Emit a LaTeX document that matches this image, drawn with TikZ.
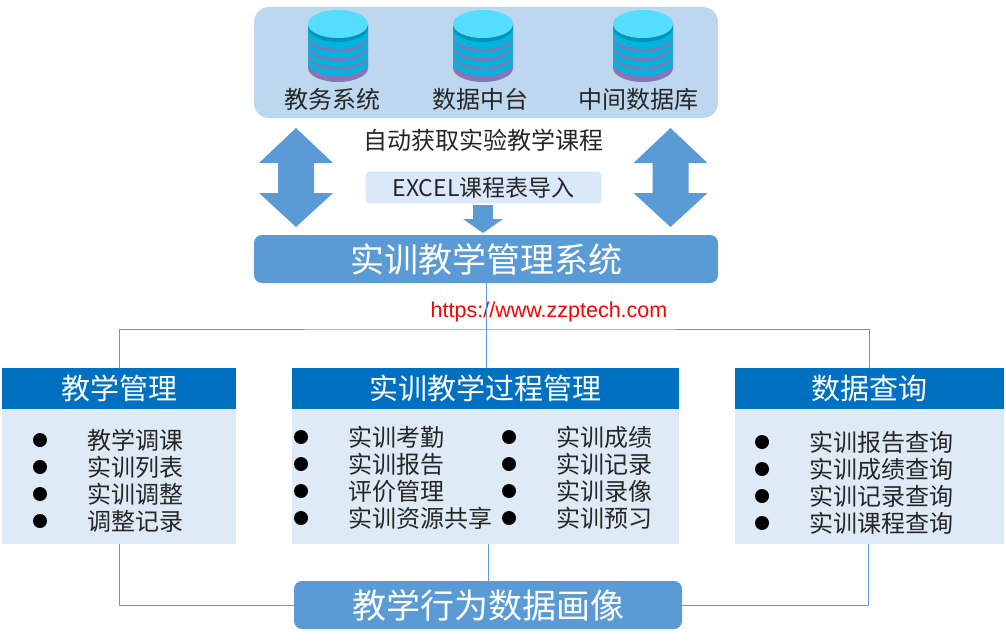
\documentclass[tikz,border=0pt]{standalone}
\usepackage{fontspec}
\setmainfont{Noto Sans CJK SC}
\newfontfamily\urlfont{Liberation Sans}
\usetikzlibrary{positioning}
\definecolor{panelblue}{HTML}{BDD7EE}
\definecolor{boxblue}{HTML}{5B9BD5}
\definecolor{hdrblue}{HTML}{0070C0}
\definecolor{bodyblue}{HTML}{DEEBF7}
\definecolor{excelblue}{HTML}{DAE8FA}
\definecolor{cyltop}{HTML}{55DDFF}
\definecolor{cylcyan}{HTML}{00B4DE}
\definecolor{cylrim}{HTML}{0096B8}
\definecolor{cylpurple}{HTML}{8477B5}
\definecolor{txtgray}{HTML}{262626}
\begin{document}
\begin{tikzpicture}[x=1pt,y=-1pt,line join=round,line cap=round,
	txt/.style={text=txtgray,inner sep=0pt,font=\fontsize{24}{28}\selectfont},
	bigbox/.style={fill=boxblue,rounded corners=8pt,text=white,font=\fontsize{34}{38}\selectfont,minimum height=48pt},
	hdr/.style={fill=hdrblue,text=white,font=\fontsize{29}{32}\selectfont,minimum height=41pt},
	body/.style={fill=bodyblue,minimum height=135pt,below=0pt of #1},
	dot/.style={circle,fill=black,inner sep=0pt,minimum size=14pt},
	link/.style={draw=boxblue,line width=0.9pt}]
	\useasboundingbox (0,0) rectangle (1006,642);
	\node[fill=panelblue,rounded corners=15pt,minimum width=464pt,minimum height=111pt] (src) at (486,62.5) {};
	\foreach \cx/\lx/\t in {338/332/教务系统,483/480/数据中台,643/638/中间数据库}{
		\fill[cylpurple] (\cx-30,24) -- (\cx-30,68) arc[start angle=180,end angle=0,x radius=30,y radius=14] -- (\cx+30,24) -- cycle;
		\fill[cylrim] (\cx-30,24) arc[start angle=180,end angle=0,x radius=30,y radius=14] -- (\cx+30,28) arc[start angle=0,end angle=180,x radius=30,y radius=14] -- cycle;
		\foreach \a/\b in {4/11,14/20,23/29,32/38}
			\fill[cylcyan] (\cx-30,24+\a) arc[start angle=180,end angle=0,x radius=30,y radius=14] -- (\cx+30,24+\b) arc[start angle=0,end angle=180,x radius=30,y radius=14] -- cycle;
		\fill[cyltop] (\cx,24) ellipse[x radius=30,y radius=14];
		\node[txt] at (\lx,99) {\t};
	}
	\node[txt] (auto) at (483,140) {自动获取实验教学课程};
	\node[txt,fill=excelblue,draw=excelblue!80!boxblue,rounded corners=4pt,minimum width=235pt,minimum height=31pt,font=\fontsize{23}{26}\selectfont] (excel) at (483.5,187.5) {EXCEL课程表导入};
	\foreach \ax in {296,670.5}
		\fill[boxblue] (\ax,128) -- (\ax+37,163) -- (\ax+18,163) -- (\ax+18,193) -- (\ax+37,193) -- (\ax,227) -- (\ax-37,193) -- (\ax-18,193) -- (\ax-18,163) -- (\ax-37,163) -- cycle;
	\fill[boxblue] (473,205) -- (493,205) -- (493,219) -- (503,219) -- (483,233) -- (463,219) -- (473,219) -- cycle;
	\node[bigbox,minimum width=464pt] (sys) at (486,259) {实训教学管理系统};
	\node[text=red,font=\urlfont\fontsize{21.5}{24}\selectfont] (url) at (549,312) {https://www.zzptech.com};
	\node[hdr,minimum width=234pt] (mgmt) at (119,388.5) {教学管理};
	\node[body=mgmt,minimum width=234pt] (mgmtbody) {};
	\node[hdr,minimum width=387pt] (flow) at (485.5,388.5) {实训教学过程管理};
	\node[body=flow,minimum width=387pt] (flowbody) {};
	\node[hdr,minimum width=269pt] (query) at (869.5,388.5) {数据查询};
	\node[body=query,minimum width=269pt] (querybody) {};
	\node[bigbox,minimum width=388pt] (portrait) at (488,605) {教学行为数据画像};
	\foreach \t [count=\i] in {教学调课,实训列表,实训调整,调整记录}{
		\node[dot] (md\i) at (40,{440+27*(\i-1)}) {};
		\node[txt,anchor=west] (mi\i) at (87,{440+27*(\i-1)}) {\t};
	}
	\foreach \t [count=\i] in {实训考勤,实训报告,评价管理,实训资源共享}{
		\node[dot] (fd\i) at (301,{437+27*(\i-1)}) {};
		\node[txt,anchor=west] (fi\i) at (348,{437+27*(\i-1)}) {\t};
	}
	\foreach \t [count=\i] in {实训成绩,实训记录,实训录像,实训预习}{
		\node[dot] (gd\i) at (509,{437+27*(\i-1)}) {};
		\node[txt,anchor=west] (gi\i) at (556,{437+27*(\i-1)}) {\t};
	}
	\foreach \t [count=\i] in {实训报告查询,实训成绩查询,实训记录查询,实训课程查询}{
		\node[dot] (qd\i) at (762,{442+27*(\i-1)}) {};
		\node[txt,anchor=west] (qi\i) at (809,{442+27*(\i-1)}) {\t};
	}
	\coordinate (bus) at (sys.south |- 0,329);
	\draw[link] (sys.south) -- (sys.south |- flow.north);
	\draw[link] (mgmt.north) |- (bus) -| (query.north);
	\draw[link] (mgmtbody.south) |- (portrait.west);
	\draw[link] (flowbody.south -| portrait.north) -- (portrait.north);
	\draw[link] (querybody.south -| 868,0) |- (portrait.east);
\end{tikzpicture}
\end{document}
